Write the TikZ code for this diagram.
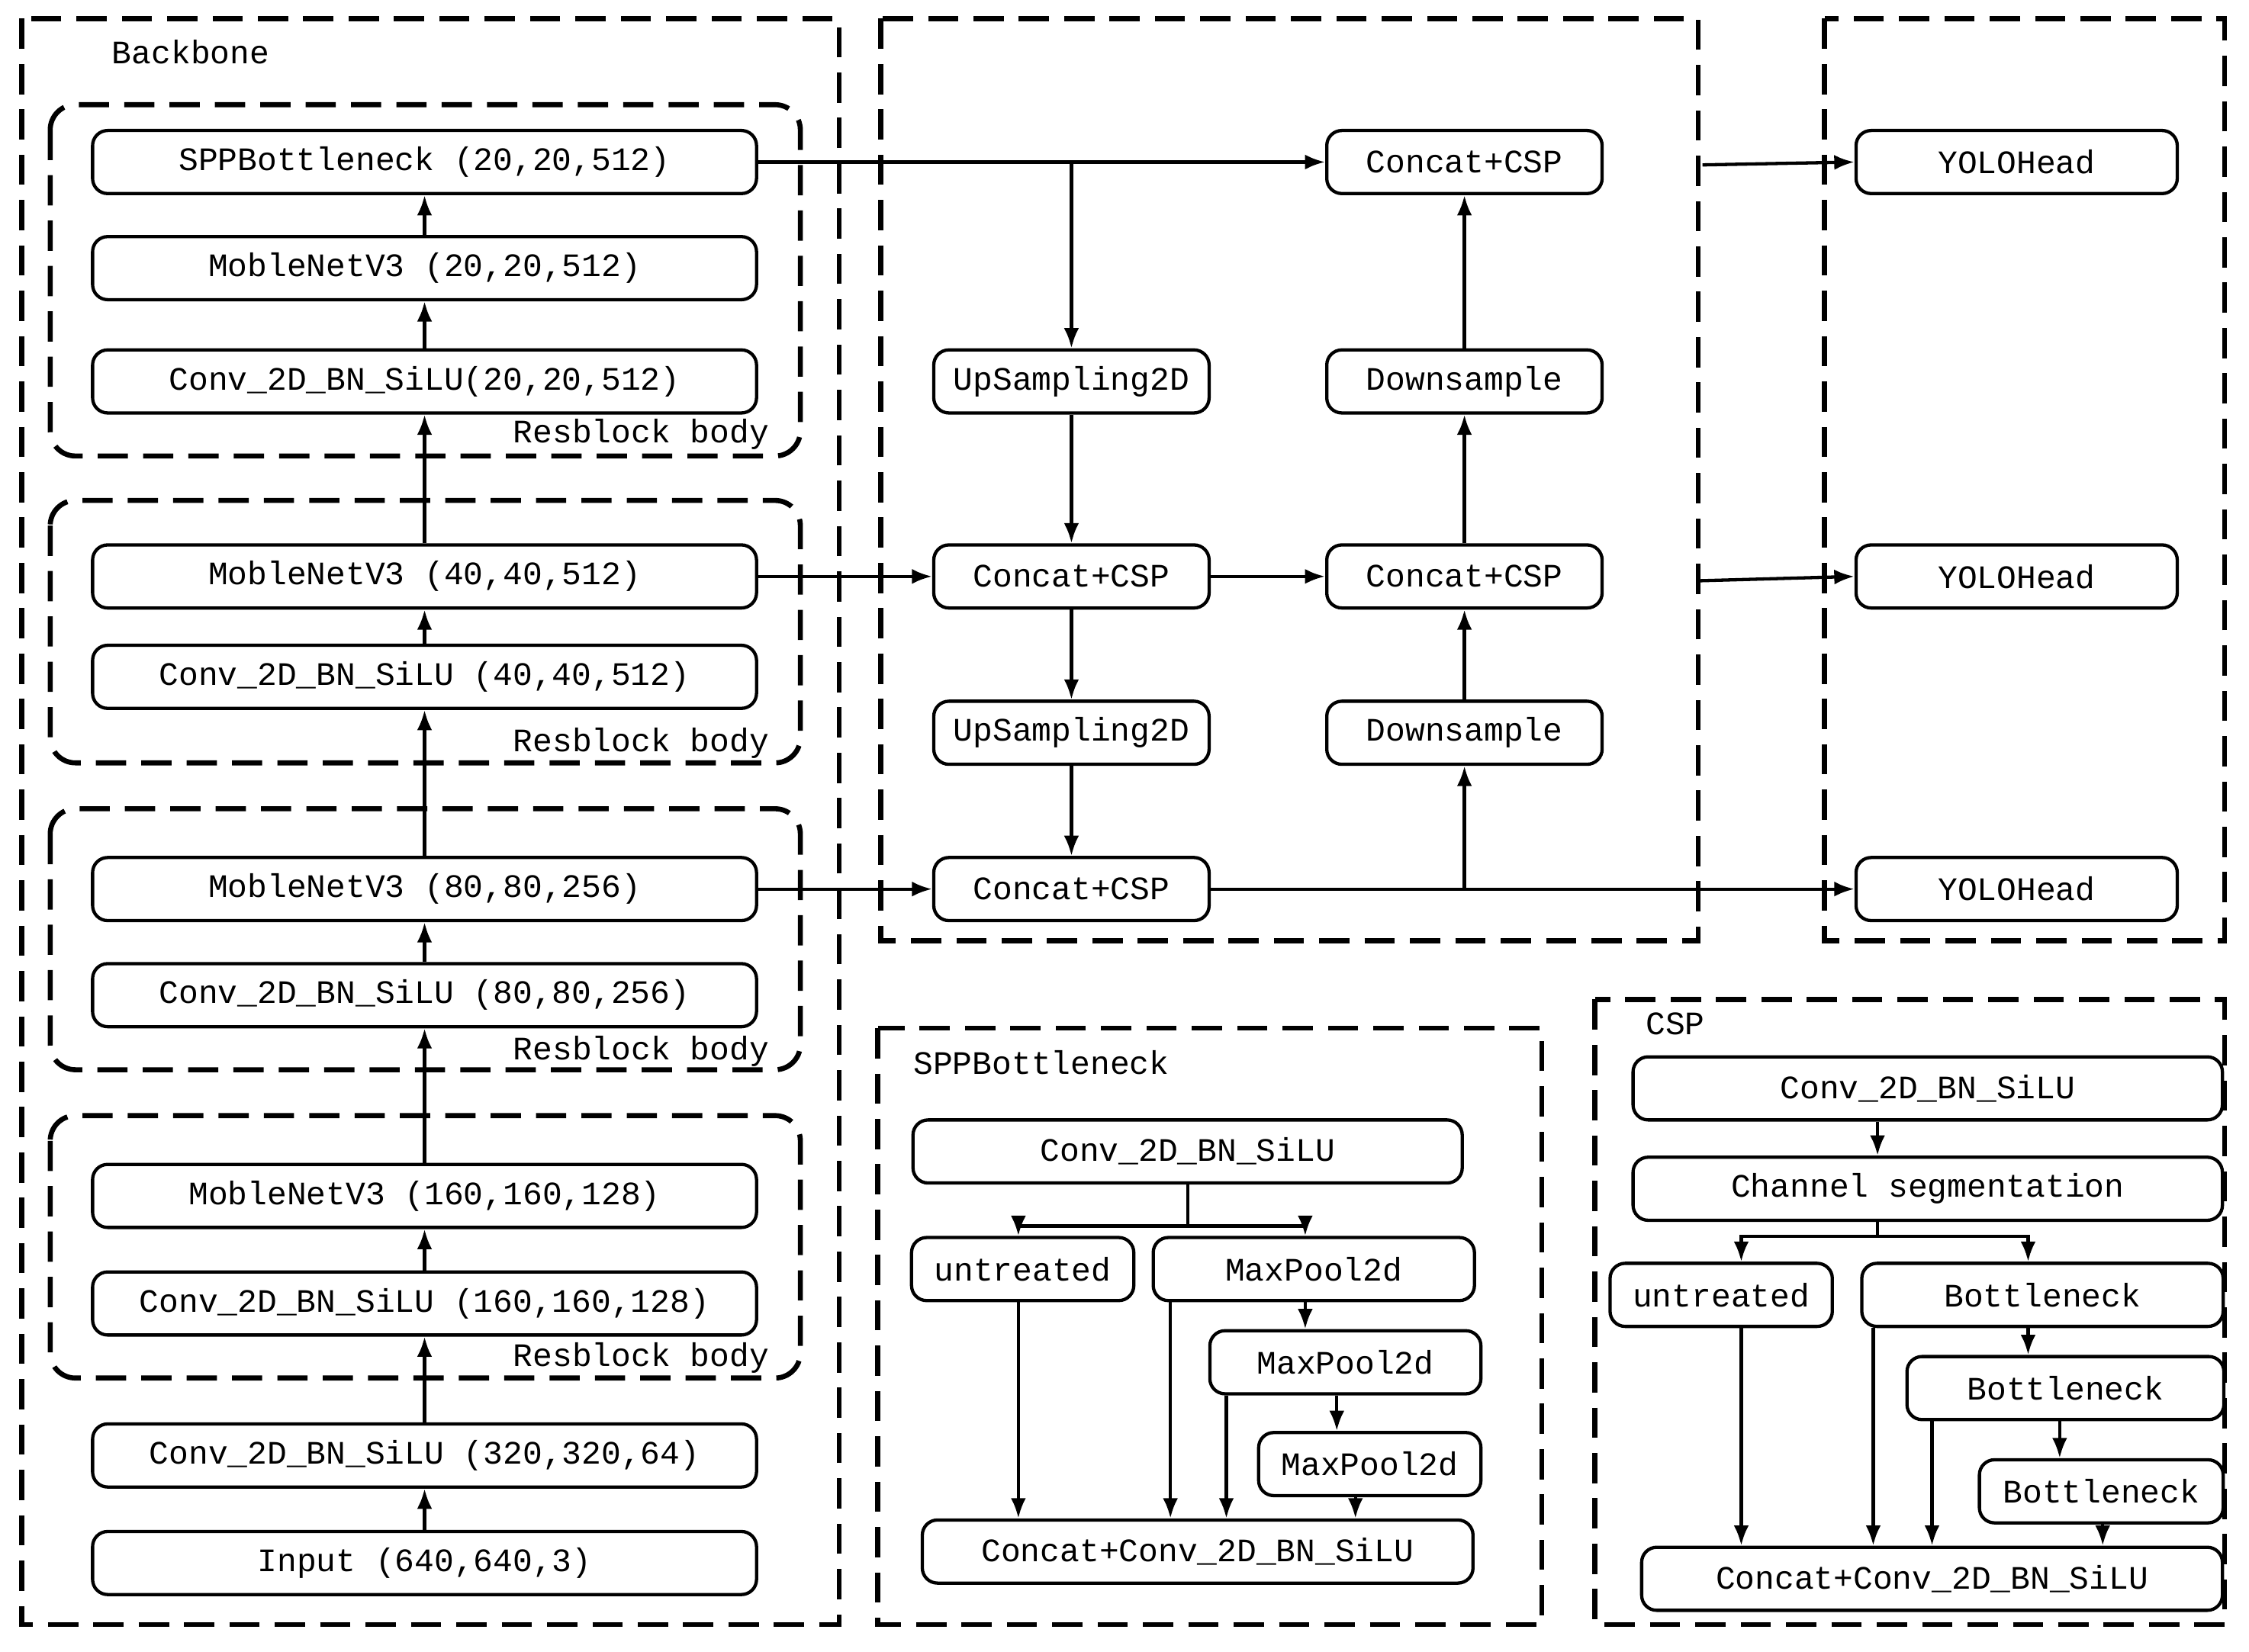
\documentclass[tikz,border=0pt]{standalone}
\usepackage{fontspec}
\setmainfont{Liberation Mono}
\usetikzlibrary{arrows.meta}
\begin{document}
\begin{tikzpicture}[x=0.02cm,y=-0.02cm,
 box/.style={draw,line width=1.3pt,rounded corners=6pt,minimum height=0.88cm,inner sep=0pt,font=\fontsize{13}{15}\selectfont},
 grp/.style={draw,line width=2pt,dash pattern=on 12pt off 6pt},
 lab/.style={font=\fontsize{13}{15}\selectfont},
 ar/.style={line width=1.3pt,-{Latex[length=8pt,width=6pt]}},
 ln/.style={line width=1.3pt}]
\useasboundingbox (0,0) rectangle (1568,1152);
% groups
\draw[grp] (15,13) rectangle (585,1133);
\node[lab] (tb) at (133,36) {Backbone};
\foreach \a/\b/\l in {73/318/303,349/532/518,564/746/733,778/961/947}{
 \draw[grp,rounded corners=10pt] (35,\a) rectangle (558,\b);
 \node[lab] at (447,\l) {Resblock body};}
\draw[grp] (614,13) rectangle (1184,656);
\draw[grp] (1272,13) rectangle (1551,656);
\draw[grp] (612,717) rectangle (1075,1133);
\node[lab] (ts) at (726,741) {SPPBottleneck};
\draw[grp] (1112,697) rectangle (1551,1133);
\node[lab] (tc) at (1168,714) {CSP};
% backbone
\def\bw{9.26cm}
\node[box,minimum width=\bw] (spp) at (296,113) {SPPBottleneck (20,20,512)};
\node[box,minimum width=\bw] (m20) at (296,187) {MobleNetV3 (20,20,512)};
\node[box,minimum width=\bw] (c20) at (296,266) {Conv\_2D\_BN\_SiLU(20,20,512)};
\node[box,minimum width=\bw] (m40) at (296,402) {MobleNetV3 (40,40,512)};
\node[box,minimum width=\bw] (c40) at (296,472) {Conv\_2D\_BN\_SiLU (40,40,512)};
\node[box,minimum width=\bw] (m80) at (296,620) {MobleNetV3 (80,80,256)};
\node[box,minimum width=\bw] (c80) at (296,694) {Conv\_2D\_BN\_SiLU (80,80,256)};
\node[box,minimum width=\bw] (m160) at (296,834) {MobleNetV3 (160,160,128)};
\node[box,minimum width=\bw] (c160) at (296,909) {Conv\_2D\_BN\_SiLU (160,160,128)};
\node[box,minimum width=\bw] (c320) at (296,1015) {Conv\_2D\_BN\_SiLU (320,320,64)};
\node[box,minimum width=\bw] (inp) at (296,1090) {Input (640,640,3)};
\foreach \a/\b in {inp/c320,c320/c160,c160/m160,m160/c80,c80/m80,m80/c40,c40/m40,m40/c20,c20/m20,m20/spp}
 \draw[ar] (\a.north) -- (\b.south);
% neck
\def\nw{3.84cm}
\node[box,minimum width=\nw] (ct) at (1021,113) {Concat+CSP};
\node[box,minimum width=\nw] (u1) at (747,266) {UpSampling2D};
\node[box,minimum width=\nw] (d1) at (1021,266) {Downsample};
\node[box,minimum width=\nw] (cml) at (747,402) {Concat+CSP};
\node[box,minimum width=\nw] (cmr) at (1021,402) {Concat+CSP};
\node[box,minimum width=\nw] (u2) at (747,511) {UpSampling2D};
\node[box,minimum width=\nw] (d2) at (1021,511) {Downsample};
\node[box,minimum width=\nw] (cbl) at (747,620) {Concat+CSP};
\node[box,minimum width=4.48cm] (y1) at (1406,113) {YOLOHead};
\node[box,minimum width=4.48cm] (y2) at (1406,402) {YOLOHead};
\node[box,minimum width=4.48cm] (y3) at (1406,620) {YOLOHead};
\draw[ar] (spp.east) -- (ct.west);
\draw[ar] (u1.north |- spp.east) -- (u1.north);
\draw[ar] (u1) -- (cml);
\draw[ar] (m40.east) -- (cml.west);
\draw[ar] (cml) -- (cmr);
\draw[ar] (cml) -- (u2);
\draw[ar] (u2) -- (cbl);
\draw[ar] (m80.east) -- (cbl.west);
\draw[ar] (cbl.east) -- (y3.west);
\draw[ar] (d2.south |- cbl.east) -- (d2.south);
\draw[ar] (d2) -- (cmr);
\draw[ar] (cmr) -- (d1);
\draw[ar] (d1) -- (ct);
\coordinate (h1) at (1187,115);
\coordinate (h2) at (1185,405);
\draw[ar] (h1) -- (y1.west);
\draw[ar] (h2) -- (y2.west);
% SPP detail
\node[box,minimum width=7.66cm] (sc) at (828,803) {Conv\_2D\_BN\_SiLU};
\node[box,minimum width=3.1cm] (su) at (713,885) {untreated};
\node[box,minimum width=4.48cm] (sm1) at (916,885) {MaxPool2d};
\node[box,minimum width=3.78cm] (sm2) at (938,950) {MaxPool2d};
\node[box,minimum width=3.1cm] (sm3) at (955,1021) {MaxPool2d};
\node[box,minimum width=7.68cm] (scc) at (835,1082) {Concat+Conv\_2D\_BN\_SiLU};
\coordinate (sj) at (828,855);
\draw[ln] (sc.south) -- (sj);
\draw[ar] (sj) -| (su.north -| 710,0);
\draw[ar] (sj) -| (sm1.north -| 910,0);
\draw[ar] (su.south -| 710,0) -- (scc.north -| 710,0);
\draw[ar] (sm1.south -| 816,0) -- (scc.north -| 816,0);
\draw[ar] (sm1.south -| 910,0) -- (sm2.north -| 910,0);
\draw[ar] (sm2.south -| 855,0) -- (scc.north -| 855,0);
\draw[ar] (sm2.south -| 932,0) -- (sm3.north -| 932,0);
\draw[ar] (sm3.south -| 945,0) -- (scc.north -| 945,0);
% CSP detail
\node[box,minimum width=8.22cm] (cc) at (1344,759) {Conv\_2D\_BN\_SiLU};
\node[box,minimum width=8.22cm] (cs) at (1344,829) {Channel segmentation};
\node[box,minimum width=3.1cm] (cu) at (1200,903) {untreated};
\node[box,minimum width=5.04cm] (cb1) at (1424,903) {Bottleneck};
\node[box,minimum width=4.42cm] (cb2) at (1440,968) {Bottleneck};
\node[box,minimum width=3.4cm] (cb3) at (1465,1040) {Bottleneck};
\node[box,minimum width=8.1cm] (ccc) at (1347,1101) {Concat+Conv\_2D\_BN\_SiLU};
\draw[ar] (cc.south -| 1309,0) -- (cs.north -| 1309,0);
\coordinate (cj) at (1309,862);
\draw[ln] (cs.south -| 1309,0) -- (cj);
\draw[ar] (cj) -| (cu.north -| 1214,0);
\draw[ar] (cj) -| (cb1.north -| 1414,0);
\draw[ar] (cu.south -| 1214,0) -- (ccc.north -| 1214,0);
\draw[ar] (cb1.south -| 1306,0) -- (ccc.north -| 1306,0);
\draw[ar] (cb1.south -| 1414,0) -- (cb2.north -| 1414,0);
\draw[ar] (cb2.south -| 1347,0) -- (ccc.north -| 1347,0);
\draw[ar] (cb2.south -| 1436,0) -- (cb3.north -| 1436,0);
\draw[ar] (cb3.south -| 1466,0) -- (ccc.north -| 1466,0);
\end{tikzpicture}
\end{document}
